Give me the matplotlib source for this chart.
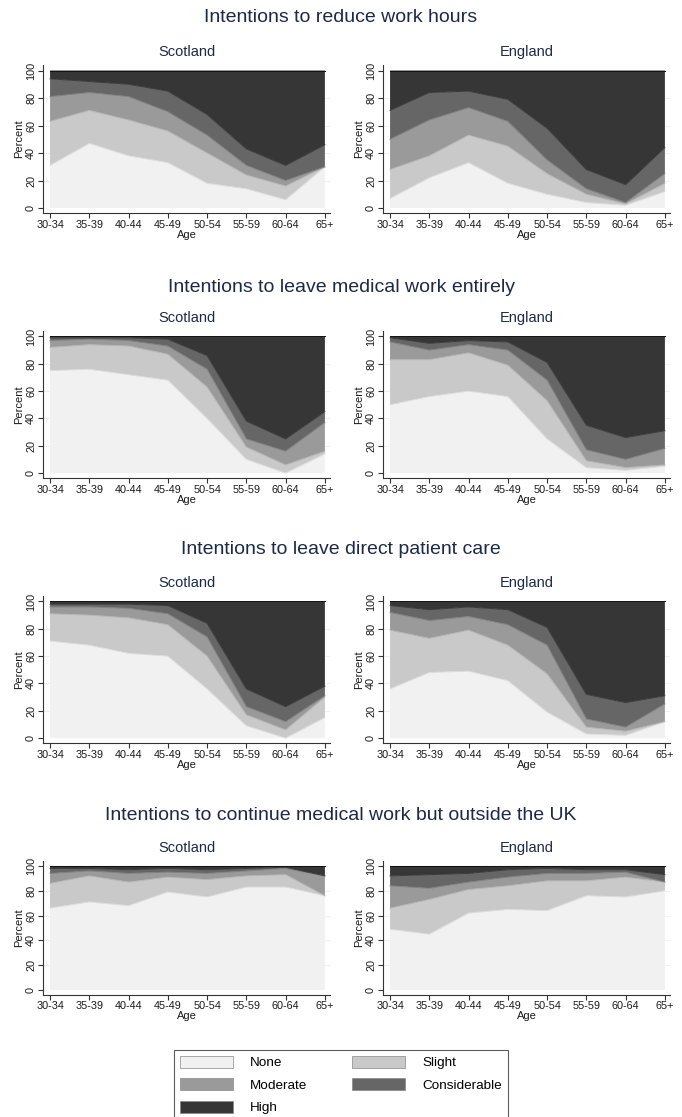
import numpy as np
import matplotlib
matplotlib.use("Agg")
import matplotlib.pyplot as plt
from matplotlib.patches import Patch

plt.rcParams['font.family'] = ['Liberation Sans', 'DejaVu Sans']

ages = ["30-34", "35-39", "40-44", "45-49", "50-54", "55-59", "60-64", "65+"]
levels = ["None", "Slight", "Moderate", "Considerable", "High"]
colors = ["#f1f1f1", "#c9c9c9", "#9a9a9a", "#666666", "#363636"]
edges = ["#dddddd", "#b5b5b5", "#808080", "#3a3a3a", "#111111"]

# cumulative upper bound of None, None+Slight, ..+Moderate, ..+Considerable (High fills to 100)
reduce_scotland = [
    [31, 47, 38, 33, 18, 14, 6, 30],
    [63, 71, 64, 56, 40, 24, 16, 30],
    [81, 84, 81, 70, 53, 31, 20, 30],
    [94, 92, 90, 85, 68, 43, 31, 46],
]
reduce_england = [
    [7, 22, 33, 18, 10, 4, 2, 12],
    [28, 38, 53, 45, 25, 10, 3, 18],
    [50, 64, 73, 63, 35, 14, 4, 25],
    [71, 84, 85, 79, 58, 28, 17, 44],
]
leave_scotland = [
    [75, 76, 72, 68, 40, 10, 0, 14],
    [92, 94, 93, 87, 63, 19, 6, 16],
    [97, 98, 97, 93, 76, 25, 16, 37],
    [99, 99, 99, 98, 86, 38, 25, 45],
]
leave_england = [
    [50, 56, 60, 56, 25, 4, 2, 5],
    [83, 83, 88, 79, 53, 9, 4, 6],
    [96, 90, 94, 90, 68, 17, 10, 18],
    [99, 95, 97, 96, 81, 35, 26, 31],
]
direct_scotland = [
    [71, 68, 62, 60, 36, 9, 0, 15],
    [91, 90, 88, 83, 60, 17, 6, 30],
    [96, 96, 95, 91, 74, 23, 12, 31],
    [98, 98, 98, 97, 84, 36, 23, 38],
]
direct_england = [
    [36, 48, 49, 42, 19, 3, 2, 12],
    [79, 73, 79, 68, 47, 8, 5, 12],
    [92, 86, 89, 83, 68, 14, 8, 25],
    [97, 94, 96, 94, 81, 32, 26, 31],
]
abroad_scotland = [
    [66, 71, 68, 79, 75, 83, 83, 76],
    [86, 92, 87, 91, 89, 92, 93, 76],
    [94, 96, 94, 95, 94, 96, 98, 92],
    [98, 98, 97, 98, 97, 98, 99, 92],
]
abroad_england = [
    [49, 45, 62, 65, 64, 76, 75, 80],
    [66, 73, 81, 84, 88, 88, 91, 87],
    [84, 82, 87, 91, 94, 94, 95, 87],
    [92, 93, 94, 97, 98, 97, 97, 93],
]

titles = ["Intentions to reduce work hours",
          "Intentions to leave medical work entirely",
          "Intentions to leave direct patient care",
          "Intentions to continue medical work but outside the UK"]
panels = [(reduce_scotland, reduce_england),
          (leave_scotland, leave_england),
          (direct_scotland, direct_england),
          (abroad_scotland, abroad_england)]

W, H = 682, 1117
fig = plt.figure(figsize=(W / 100, H / 100), dpi=100)
title_col = "#1c2a4a"

rows_px = [(65, 213), (331, 478), (596, 743), (861, 994.5)]
title_y = [18, 288, 550, 816]
sub_y = [52, 318, 583, 848]
cols_px = [43, 383]
ax_w = 287

x = np.arange(len(ages))
for r, (top, bot) in enumerate(rows_px):
    fig.text(0.5, 1 - title_y[r] / H, titles[r], ha='center', va='center',
             fontsize=14, color=title_col)
    for c, name in enumerate(["Scotland", "England"]):
        ax = fig.add_axes([cols_px[c] / W, 1 - bot / H, ax_w / W, (bot - top) / H])
        cum = np.array(panels[r][c], dtype=float)
        bounds = np.vstack([np.zeros(len(ages)), cum, np.full(len(ages), 100.0)])
        for k in range(5):
            ax.fill_between(x, bounds[k], bounds[k + 1], facecolor=colors[k],
                            edgecolor='none', zorder=2 + k)
        for k in range(5):
            ax.plot(x, bounds[k + 1], color=edges[k], lw=0.7, zorder=8)
        ax.set_xlim(-0.18, 7.13)
        ax.set_ylim(-3.6, 104)
        for yg in [20, 40, 60, 80]:
            ax.axhline(yg, color="#eeeeee", lw=0.6, zorder=1)
        for s in ['top', 'right']:
            ax.spines[s].set_visible(False)
        for s in ['left', 'bottom']:
            ax.spines[s].set_linewidth(0.8)
            ax.spines[s].set_color('#333333')
        ax.set_xticks(x)
        ax.set_xticklabels(ages, fontsize=7.8, color='#1a1a1a')
        ax.set_yticks([0, 20, 40, 60, 80, 100])
        ax.set_yticklabels(["0", "20", "40", "60", "80", "100"], fontsize=7.8,
                           rotation=90, va='center', color='#1a1a1a')
        ax.tick_params(length=3.5, width=0.8, color='#333333', pad=1.5)
        ax.set_xlabel("Age", fontsize=8, labelpad=0, color='#1a1a1a')
        ax.set_ylabel("Percent", fontsize=8, labelpad=1.5, color='#1a1a1a')
        fig.text((cols_px[c] + ax_w / 2) / W, 1 - sub_y[r] / H, name,
                 ha='center', va='center', fontsize=10.5, color=title_col)

handles = [Patch(facecolor=colors[k], edgecolor='#888888', linewidth=0.5) for k in range(5)]
order = [0, 2, 4, 1, 3]
leg = fig.legend([handles[i] for i in order], [levels[i] for i in order],
                 ncol=2, loc='upper center', bbox_to_anchor=(0.5, 1 - 1043 / H),
                 fontsize=9.7, frameon=True, fancybox=False, edgecolor='#333333',
                 handlelength=3.9, handleheight=1.0, handletextpad=1.3,
                 columnspacing=3.3, labelspacing=0.65, borderpad=0.45)
leg.get_frame().set_linewidth(0.8)

fig.savefig("out.png", dpi=100)
